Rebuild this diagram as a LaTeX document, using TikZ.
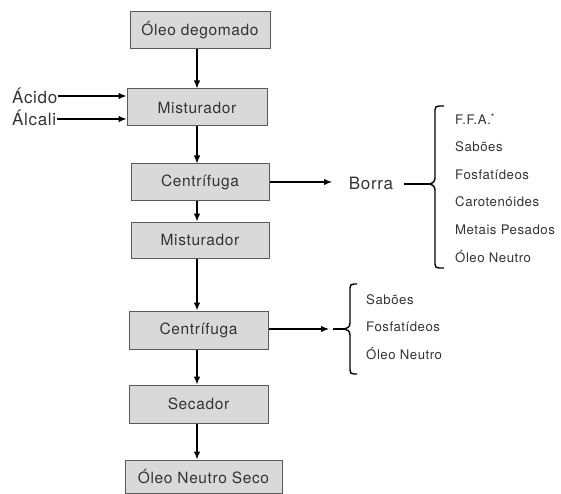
\documentclass[tikz,border=0pt]{standalone}
\usepackage{fontspec}
\setmainfont{TeX Gyre Heros}[LetterSpace=4.0]
\usetikzlibrary{arrows.meta,calc}
\definecolor{boxfill}{HTML}{D9D9D9}
\definecolor{boxline}{HTML}{5A5A5A}
\definecolor{txt}{HTML}{333333}
\tikzset{
  procbox/.style={draw=boxline, line width=1pt, fill=boxfill, minimum width=140pt, minimum height=37pt, inner sep=0pt, text=txt, font=\fontsize{15.5}{18}\selectfont},
  biglabel/.style={text=txt, inner sep=1pt, font=\fontsize{17}{19}\selectfont},
  item/.style={text=txt, inner sep=0pt, anchor=west, font=\fontsize{13.2}{15}\selectfont},
  arr/.style={draw=black, line width=1.2pt, -{Latex[length=8pt,width=6.5pt]}},
  plain/.style={draw=black, line width=1.2pt},
  bracepath/.style={draw=black, line width=1.4pt},
}
\begin{document}
\begin{tikzpicture}[x=1pt,y=-1pt]
\useasboundingbox (0,0) rectangle (561,494);
% process boxes
\node[procbox] (b1) at (200,30.5) {Óleo degomado};
\node[procbox] (b2) at (197,107.5) {Misturador};
\node[procbox, minimum width=138pt, minimum height=36pt] (b3) at (200,182) {Centrífuga};
\node[procbox, minimum width=138pt, minimum height=36pt] (b4) at (200,240) {Misturador};
\node[procbox, minimum width=139pt, minimum height=38pt] (b5) at (198.5,330) {Centrífuga};
\node[procbox, minimum width=139pt, minimum height=38pt] (b6) at (198.5,404) {Secador};
\node[procbox, minimum width=157pt, minimum height=33pt] (b7) at (203.5,476.5) {Óleo Neutro Seco};
% vertical arrows
\draw[arr] (b1.south -| 197,0) -- (b2.north -| 197,0);
\draw[arr] (b2.south -| 197,0) -- (b3.north -| 197,0);
\draw[arr] (b3.south -| 197,0) -- (b4.north -| 197,0);
\draw[arr] (b4.south -| 197,0) -- (b5.north -| 197,0);
\draw[arr] (b5.south -| 197,0) -- (b6.north -| 197,0);
\draw[arr] (b6.south -| 197,0) -- (b7.north -| 197,0);
% inputs
\node[biglabel, anchor=west] (acido) at (11,96) {Ácido};
\node[biglabel, anchor=west] (alcali) at (11,118) {Álcali};
\draw[arr] (acido.east) -- (acido.east -| b2.west);
\draw[arr] (alcali.east |- 0,119) -- (b2.west |- 0,119);
% Borra branch
\node[biglabel] (borra) at (371,183) {Borra};
\coordinate (a1) at (332,182);
\draw[arr] (b3.east) -- (a1);
\coordinate (t1) at (428,184);
\coordinate (s1) at (404,184);
\draw[plain] (s1) -- (t1);
\draw[bracepath] (444,106) -- (439,106) .. controls (436,106) and (435,107) .. (435,110)
  -- (435,178) .. controls (435,182) and (432,184) .. (t1)
  .. controls (432,184) and (435,186) .. (435,190)
  -- (435,264) .. controls (435,267) and (436,268) .. (439,268) -- (444,268);
\node[item] (i1) at (455,119) {F.F.A.\textsuperscript{*}};
\node[item] (i2) at (455,147) {Sabões};
\node[item] (i3) at (455,174.5) {Fosfatídeos};
\node[item] (i4) at (455,202) {Carotenóides};
\node[item] (i5) at (455,229.5) {Metais Pesados};
\node[item] (i6) at (455,257) {Óleo Neutro};
% second branch
\coordinate (a2) at (329,329);
\draw[arr] (b5.east |- a2) -- (a2);
\coordinate (t2) at (344,329);
\coordinate (s2) at (333,329);
\draw[plain] (s2) -- (t2);
\draw[bracepath] (357,284) -- (354,284) .. controls (351,284) and (350,285) .. (350,288)
  -- (350,323) .. controls (350,327) and (347,329) .. (t2)
  .. controls (347,329) and (350,331) .. (350,335)
  -- (350,370) .. controls (350,373) and (351,374) .. (354,374) -- (357,374);
\node[item] (j1) at (366,300) {Sabões};
\node[item] (j2) at (366,327) {Fosfatídeos};
\node[item] (j3) at (366,354) {Óleo Neutro};
\end{tikzpicture}
\end{document}
